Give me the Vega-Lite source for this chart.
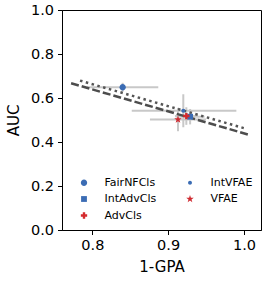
{
  "$schema": "https://vega.github.io/schema/vega-lite/v6.json",
  "width": 199,
  "height": 220,
  "autosize": {"type": "none"},
  "padding": {"left": 62, "top": 10, "right": 5, "bottom": 53},
  "config": {
    "font": "DejaVu Sans",
    "view": {"stroke": "#000000", "strokeWidth": 1},
    "axis": {
      "grid": false,
      "domainColor": "#000000",
      "tickColor": "#000000",
      "labelColor": "#000000",
      "titleColor": "#000000",
      "labelFontSize": 14.5,
      "titleFontSize": 15,
      "titleFontWeight": "normal",
      "tickSize": 4.5
    },
    "legend": {
      "labelFontSize": 11,
      "labelColor": "#000000"
    }
  },
  "data": {"values": [
      {"kind": "pt", "method": "FairNFCls", "gpa": 0.840, "auc": 0.649, "xlo": 0.793, "xhi": 0.887, "ylo": 0.629, "yhi": 0.669},
      {"kind": "pt", "method": "IntVFAE", "gpa": 0.920, "auc": 0.542, "xlo": 0.852, "xhi": 0.990, "ylo": 0.467, "yhi": 0.617},
      {"kind": "pt", "method": "IntAdvCls", "gpa": 0.929, "auc": 0.515, "xlo": 0.910, "xhi": 0.948, "ylo": 0.480, "yhi": 0.550},
      {"kind": "pt", "method": "VFAE", "gpa": 0.913, "auc": 0.502, "xlo": 0.876, "xhi": 0.950, "ylo": 0.449, "yhi": 0.555},
      {"kind": "pt", "method": "AdvCls", "gpa": 0.924, "auc": 0.518, "xlo": 0.909, "xhi": 0.939, "ylo": 0.478, "yhi": 0.558},
      {"kind": "dashed", "gpa": 0.772, "auc": 0.667},
      {"kind": "dashed", "gpa": 1.0055, "auc": 0.434},
      {"kind": "dotted", "gpa": 0.7838, "auc": 0.679},
      {"kind": "dotted", "gpa": 1.0, "auc": 0.463}
  ]},
  "encoding": {
    "x": {"field": "gpa", "type": "quantitative", "scale": {"domain": [0.76, 1.0225], "nice": false, "zero": false},
          "axis": {"values": [0.8, 0.9, 1.0], "format": ".1f", "title": "1-GPA", "labelPadding": 4, "titlePadding": 7}},
    "y": {"field": "auc", "type": "quantitative", "scale": {"domain": [0, 1], "nice": false},
          "axis": {"values": [0, 0.2, 0.4, 0.6, 0.8, 1.0], "format": ".1f", "title": "AUC", "labelPadding": 4, "titlePadding": 9}}
  },
  "layer": [
    {
      "transform": [{"filter": "datum.kind === 'pt'"}],
      "mark": {"type": "rule", "color": "#c8c8c8", "strokeWidth": 2},
      "encoding": {
        "x": {"field": "xlo", "type": "quantitative"},
        "x2": {"field": "xhi"}
      }
    },
    {
      "transform": [{"filter": "datum.kind === 'pt'"}],
      "mark": {"type": "rule", "color": "#c8c8c8", "strokeWidth": 2},
      "encoding": {
        "y": {"field": "ylo", "type": "quantitative"},
        "y2": {"field": "yhi"}
      }
    },
    {
      "transform": [{"filter": "datum.kind === 'dashed'"}],
      "mark": {"type": "line", "color": "#4d4d4d", "strokeWidth": 2.5, "strokeDash": [8, 3]},
      "encoding": {}
    },
    {
      "transform": [{"filter": "datum.kind === 'dotted'"}],
      "mark": {"type": "line", "color": "#555555", "strokeWidth": 2.5, "strokeDash": [2.5, 3.5]},
      "encoding": {}
    },
    {
      "transform": [{"filter": "datum.kind === 'pt'"}],
      "mark": {"type": "point", "filled": true, "opacity": 1, "size": 40},
      "encoding": {
        "color": {"field": "method", "type": "nominal",
          "scale": {"domain": ["FairNFCls", "IntAdvCls", "AdvCls", "IntVFAE", "VFAE"],
                    "range": ["#3b6cb4", "#3b6cb4", "#d42a2d", "#3b6cb4", "#cf2b31"]},
          "legend": {"title": null, "orient": "none", "legendX": 16.5, "legendY": 167, "columns": 2, "columnPadding": 28, "rowPadding": 4.5, "labelOffset": 15, "symbolSize": 40}},
        "shape": {"field": "method", "type": "nominal",
          "scale": {"domain": ["FairNFCls", "IntAdvCls", "AdvCls", "IntVFAE", "VFAE"],
                    "range": [
                      "M1,0A1,1,0,1,1,-1,0A1,1,0,1,1,1,0Z",
                      "M-0.92,-0.92L0.92,-0.92L0.92,0.92L-0.92,0.92Z",
                      "M-0.38,-1L0.38,-1L0.38,-0.38L1,-0.38L1,0.38L0.38,0.38L0.38,1L-0.38,1L-0.38,0.38L-1,0.38L-1,-0.38L-0.38,-0.38Z",
                      "M0.62,0A0.62,0.62,0,1,1,-0.62,0A0.62,0.62,0,1,1,0.62,0Z",
                      "M0,-1.25L0.294,-0.405L1.189,-0.386L0.475,0.155L0.735,1.011L0,0.5L-0.735,1.011L-0.475,0.155L-1.189,-0.386L-0.294,-0.405Z"
                    ]},
          "legend": {"title": null, "orient": "none", "legendX": 16.5, "legendY": 167, "columns": 2, "columnPadding": 28, "rowPadding": 4.5, "labelOffset": 15, "symbolSize": 40}}
      }
    }
  ]
}
